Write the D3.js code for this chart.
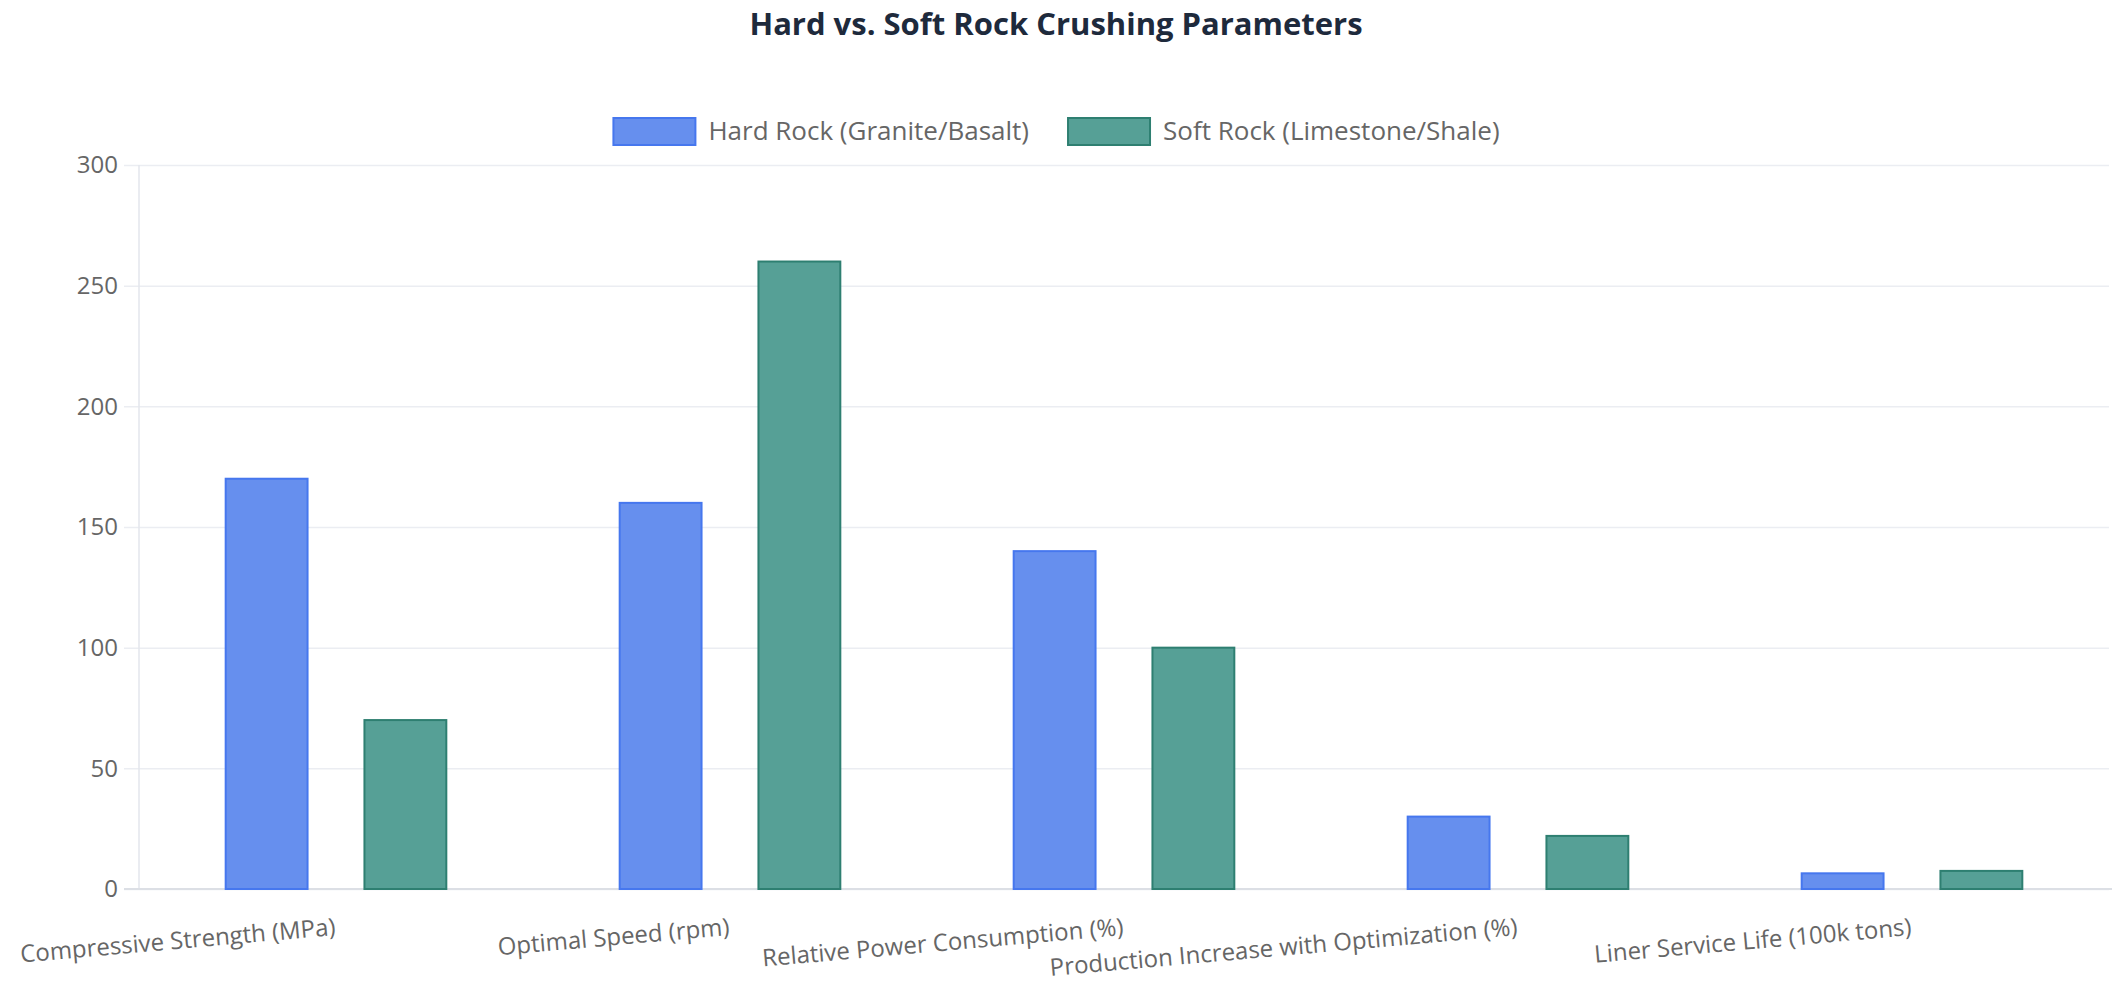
<!DOCTYPE html>
<html>
<head>
<meta charset="utf-8">
<script src="https://cdn.jsdelivr.net/npm/d3@7"></script>
<style>
  body { margin: 0; background: #fff; font-family: "Open Sans", "Noto Sans", sans-serif; }
  #graphic svg { display: block; }
</style>
</head>
<body>
<div id="graphic"></div>
<script>
// chart data
var categories = [
  "Compressive Strength (MPa)",
  "Optimal Speed (rpm)",
  "Relative Power Consumption (%)",
  "Production Increase with Optimization (%)",
  "Liner Service Life (100k tons)"
];
var seriesNames = ["Hard Rock (Granite/Basalt)", "Soft Rock (Limestone/Shale)"];
var hardRock = [170, 160, 140, 30, 6.5];
var softRock = [70, 260, 100, 22, 7.5];
var yTicks = [0, 50, 100, 150, 200, 250, 300];

var fills = ["#668fee", "#56a096"];
var strokes = ["#4677ee", "#2e7f71"];

var graphic = d3.select('#graphic');

function drawGraphic() {

  graphic.selectAll("*").remove();

  var width = 2112, height = 1000;
  var margin = { top: 165, right: 3, bottom: 111, left: 139 };
  var chart_width = width - margin.left - margin.right;
  var chart_height = height - margin.top - margin.bottom;

  var svg = graphic.append("svg")
    .attr("width", width)
    .attr("height", height);

  // title
  svg.append("text")
    .attr("x", width / 2)
    .attr("y", 35)
    .attr("text-anchor", "middle")
    .style("font-size", "31px")
    .style("font-weight", "700")
    .style("fill", "#1e2a3c")
    .text("Hard vs. Soft Rock Crushing Parameters");

  // legend, measured then centred
  var legend = svg.append("g").attr("class", "legend");
  var lx = 0;
  seriesNames.forEach(function(name, i) {
    var item = legend.append("g").attr("transform", "translate(" + lx + ",0)");
    item.append("rect")
      .attr("x", 1).attr("y", -13)
      .attr("width", 82).attr("height", 27)
      .attr("fill", fills[i])
      .attr("stroke", strokes[i])
      .attr("stroke-width", 2);
    var t = item.append("text")
      .attr("x", 96)
      .attr("y", 0)
      .attr("dy", "0.35em")
      .style("font-size", "26px")
      .style("fill", "#666")
      .text(name);
    var w = 96 + t.node().getComputedTextLength();
    lx += w + 38;
  });
  var legendWidth = lx - 38;
  legend.attr("transform", "translate(" + (width / 2 - legendWidth / 2) + ",131)");

  var data = categories.map(function(c, i) {
    return { name: c, values: [hardRock[i], softRock[i]] };
  });

  // scales
  var x0 = d3.scaleBand()
    .domain(categories)
    .range([0, chart_width])
    .paddingInner(0.44)
    .paddingOuter(0.22);

  var x1 = d3.scaleBand()
    .domain(d3.range(seriesNames.length))
    .range([0, x0.bandwidth()])
    .paddingInner(0.41);

  var y = d3.scaleLinear()
    .domain([0, 300])
    .range([chart_height, 0]);

  var chart = svg.append("g")
    .attr("transform", "translate(" + margin.left + "," + margin.top + ")");

  // gridlines and y axis
  var yAxis = d3.axisLeft(y)
    .tickValues(yTicks)
    .tickSize(-chart_width)
    .tickPadding(21);

  chart.append("g")
    .attr("class", "y axis")
    .call(yAxis)
    .call(function(g) {
      g.select(".domain").remove();
      g.selectAll(".tick line")
        .attr("x1", -15)
        .attr("stroke", "#ebedf2")
        .attr("stroke-width", 1.5);
      g.selectAll(".tick text")
        .style("font-size", "24px")
        .style("font-family", "'Open Sans', 'Noto Sans', sans-serif")
        .style("fill", "#666");
    });

  chart.append("line")
    .attr("x1", 0).attr("x2", 0)
    .attr("y1", 0).attr("y2", chart_height)
    .attr("stroke", "#e3e6ec")
    .attr("stroke-width", 1.5);

  chart.append("line")
    .attr("x1", -15).attr("x2", chart_width + margin.right)
    .attr("y1", chart_height).attr("y2", chart_height)
    .attr("stroke", "#dcdfe5")
    .attr("stroke-width", 2);

  // bars
  var groups = chart.selectAll("g.group")
    .data(data)
    .join("g")
    .attr("class", "group")
    .attr("transform", d => "translate(" + x0(d.name) + ",0)");

  groups.selectAll("rect")
    .data(d => d.values)
    .join("rect")
    .attr("x", (d, i) => x1(i))
    .attr("y", d => y(d))
    .attr("width", x1.bandwidth())
    .attr("height", d => chart_height - y(d))
    .attr("fill", (d, i) => fills[i])
    .attr("stroke", (d, i) => strokes[i])
    .attr("stroke-width", 2);

  // rotated category labels
  var xAxis = d3.axisBottom(x0).tickSize(0).tickPadding(0);
  chart.append("g")
    .attr("class", "x axis")
    .attr("transform", "translate(0," + chart_height + ")")
    .call(xAxis)
    .call(function(g) {
      g.select(".domain").remove();
      g.selectAll(".tick text")
        .attr("text-anchor", "end")
        .attr("y", 0)
        .attr("dy", 0)
        .attr("transform", "translate(0,46) rotate(-5)")
        .style("font-size", "24px")
        .style("font-family", "'Open Sans', 'Noto Sans', sans-serif")
        .style("fill", "#666");
    });
}

drawGraphic();
</script>
</body>
</html>
